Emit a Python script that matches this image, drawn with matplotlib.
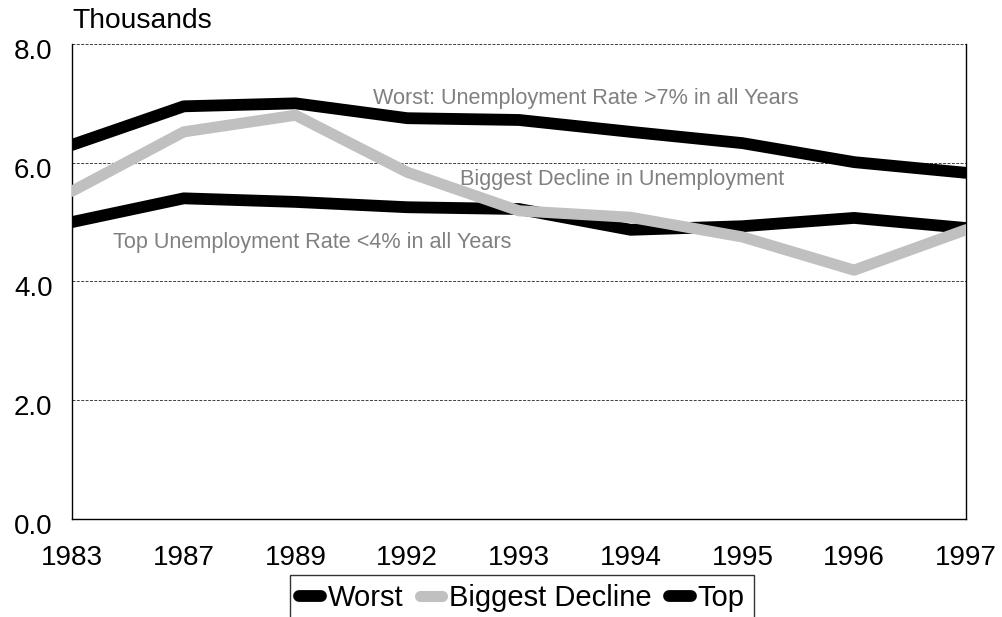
import matplotlib
matplotlib.use("Agg")
import matplotlib.pyplot as plt
import matplotlib.transforms as mtransforms
import numpy as np

plt.rcParams['font.family'] = ['Liberation Sans', 'DejaVu Sans']

years = ['1983', '1987', '1989', '1992', '1993', '1994', '1995', '1996', '1997']
worst = [6.30, 6.95, 7.00, 6.75, 6.72, 6.52, 6.33, 6.01, 5.83]
biggest_decline = [5.52, 6.52, 6.80, 5.84, 5.19, 5.08, 4.75, 4.19, 4.87]
top = [5.00, 5.40, 5.34, 5.25, 5.22, 4.87, 4.93, 5.07, 4.90]

fig = plt.figure(figsize=(10.02, 6.17), dpi=100)
ax = fig.add_axes([0.0719, 0.159, 0.892, 0.7697])

x = np.arange(len(years))
ax.plot(x, worst, color='black', lw=8.5, solid_capstyle='round', label='Worst', zorder=3)
ax.plot(x, biggest_decline, color='#c0c0c0', lw=8, solid_capstyle='round', label='Biggest Decline', zorder=4)
ax.plot(x, top, color='black', lw=8.5, solid_capstyle='round', label='Top', zorder=3)

ax.set_xlim(0, len(years) - 1)
ax.set_ylim(0, 8)
ax.set_yticks([0, 2, 4, 6, 8])
ax.set_yticklabels(['0.0', '2.0', '4.0', '6.0', '8.0'])
ax.set_xticks(x)
ax.set_xticklabels(years)
ax.tick_params(axis='both', length=0, labelsize=20)
ax.tick_params(axis='x', pad=19)
ax.tick_params(axis='y', pad=14)
shift = mtransforms.ScaledTranslation(0, -5 / 100, fig.dpi_scale_trans)
for lab in ax.get_yticklabels():
    lab.set_transform(lab.get_transform() + shift)
for v in [2, 4, 6, 8]:
    ax.axhline(v, color='#404040', lw=0.7, ls=(0, (3, 1.5)), zorder=1)
for s in ax.spines.values():
    s.set_linewidth(1.0)
ax.spines['top'].set_visible(False)

fig.text(0.072, 0.966, 'Thousands', fontsize=20.3, ha='left', va='center')

ax.text(2.69, 7.09, 'Worst: Unemployment Rate >7% in all Years', color='#808080', fontsize=15.6, va='center')
ax.text(3.47, 5.72, 'Biggest Decline in Unemployment', color='#808080', fontsize=15.6, va='center')
ax.text(0.37, 4.66, 'Top Unemployment Rate <4% in all Years', color='#808080', fontsize=15.6, va='center')

leg = fig.legend(loc='upper left', bbox_to_anchor=(0.2894, 0.068), ncol=3, fontsize=21,
                 frameon=True, fancybox=False, edgecolor='black', handlelength=0.75,
                 handletextpad=0.24, columnspacing=0.58, borderpad=0.31, borderaxespad=0)
leg.get_frame().set_linewidth(1.0)

fig.savefig('out.png', dpi=100)
